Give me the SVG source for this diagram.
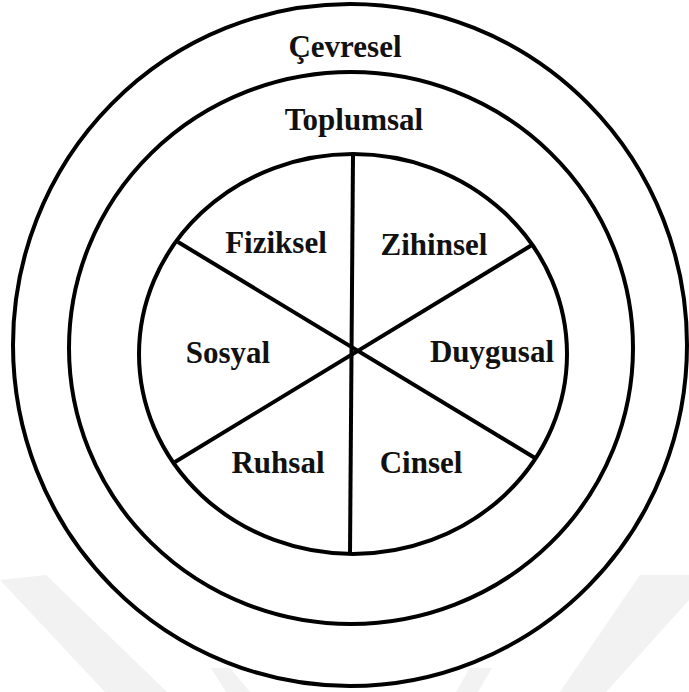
<svg xmlns="http://www.w3.org/2000/svg" width="689" height="692" viewBox="0 0 689 692">
  <style>
    .ring { fill: none; stroke: #000; stroke-width: 4; }
    .div { stroke: #000; stroke-width: 4; stroke-linecap: butt; }
    .lbl { font-family: "Liberation Serif", "Times New Roman", serif; font-weight: bold; font-size: 31px; fill: #111; text-anchor: middle; }
    .wm { fill: #f2f2f2; }
  </style>
  <rect width="689" height="692" fill="#fff"/>
  <g id="watermark">
    <polygon class="wm" points="0,580 46,575 167,692 105,692"/>
    <polygon class="wm" points="640,575 689,575 689,600 606,692 560,692"/>
    <polygon class="wm" points="211,668 230,668 250,692 226,692"/>
    <polygon class="wm" points="470,668 492,668 478,692 456,692"/>
  </g>
  <g id="ring-cevresel">
    <ellipse class="ring" cx="350" cy="345" rx="337" ry="341"/>
    <text class="lbl" x="345" y="57">Çevresel</text>
  </g>
  <g id="ring-toplumsal">
    <ellipse class="ring" cx="351" cy="348" rx="282" ry="276"/>
    <text class="lbl" x="354" y="130">Toplumsal</text>
  </g>
  <g id="core">
    <ellipse class="ring" cx="353" cy="354" rx="214" ry="200"/>
  </g>
  <g id="connectors">
    <line class="div" x1="353" y1="155" x2="350" y2="554"/>
    <line class="div" x1="178" y1="242" x2="535" y2="458"/>
    <line class="div" x1="532" y1="245" x2="175" y2="462"/>
  </g>
  <g id="fiziksel"><text class="lbl" x="276" y="253">Fiziksel</text></g>
  <g id="zihinsel"><text class="lbl" x="434" y="255">Zihinsel</text></g>
  <g id="sosyal"><text class="lbl" x="228" y="363">Sosyal</text></g>
  <g id="duygusal"><text class="lbl" x="492" y="362">Duygusal</text></g>
  <g id="ruhsal"><text class="lbl" x="278" y="473">Ruhsal</text></g>
  <g id="cinsel"><text class="lbl" x="421" y="473">Cinsel</text></g>
</svg>
